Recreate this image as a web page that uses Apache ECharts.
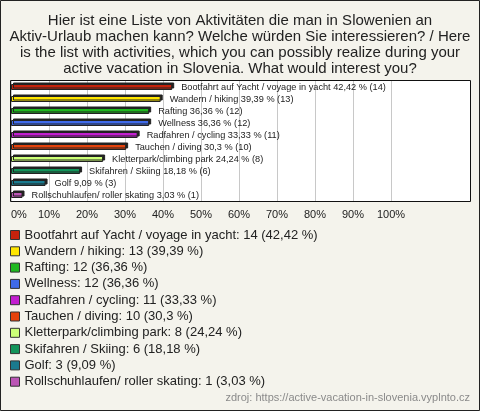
<!DOCTYPE html>
<html><head><meta charset="utf-8">
<script src="https://cdn.jsdelivr.net/npm/echarts@6/dist/echarts.min.js"></script>
<style>html,body{margin:0;padding:0;background:#f4f3ec}#c{width:480px;height:411px}</style>
</head><body><div id="c"></div>
<script>
const categories = [
  "Bootfahrt auf Yacht / voyage in yacht",
  "Wandern / hiking",
  "Rafting",
  "Wellness",
  "Radfahren / cycling",
  "Tauchen / diving",
  "Kletterpark/climbing park",
  "Skifahren / Skiing",
  "Golf",
  "Rollschuhlaufen/ roller skating"
];
const counts = [14, 13, 12, 12, 11, 10, 8, 6, 3, 1];
const percents = [42.42, 39.39, 36.36, 36.36, 33.33, 30.3, 24.24, 18.18, 9.09, 3.03];
const colors = ["#c4220c", "#ffe600", "#1fb81f", "#3f6ae8", "#c21ed0", "#e4420c", "#ccff77", "#12945a", "#1a7a8e", "#bb55b5"];
const tickLabels = ["0%","10%","20%","30%","40%","50%","60%","70%","80%","90%","100%"];
const titleText = "Hier ist eine Liste von Aktivitäten die man in Slowenien an\nAktiv-Urlaub machen kann? Welche würden Sie interessieren? / Here\nis the list with activities, which you can possibly realize during your\nactive vacation in Slovenia. What would interest you?";
const sourceText = "zdroj: https://active-vacation-in-slovenia.vyplnto.cz";

const FONT = "'Liberation Sans', Arial, sans-serif";
const fmt = v => String(v).replace('.', ',');

const series = categories.map((name, i) => ({
  name: name,
  type: 'bar',
  stack: 'all',
  barWidth: 6,
  data: categories.map((c, j) => j === i ? percents[i] : '-'),
  itemStyle: {
    color: colors[i],
    borderColor: '#222',
    borderWidth: 1,
    shadowColor: '#222',
    shadowBlur: 0,
    shadowOffsetX: 2,
    shadowOffsetY: -1.5
  },
  label: {
    show: true,
    position: 'right',
    distance: 9,
    fontFamily: FONT,
    fontSize: 9.2,
    color: '#222',
    formatter: () => name + ' ' + fmt(percents[i]) + ' % (' + counts[i] + ')'
  },
  emphasis: { disabled: true },
  animation: false
}));

const chart = echarts.init(document.getElementById('c'), null, { renderer: 'canvas' });
chart.setOption({
  backgroundColor: '#f4f3ec',
  animation: false,
  title: {
    text: titleText,
    left: 'center',
    top: 8,
    textStyle: { fontFamily: FONT, fontSize: 15, fontWeight: 'normal', color: '#222', lineHeight: 16 }
  },
  grid: { left: 11, right: 89, top: 81, bottom: 210, containLabel: false },
  xAxis: {
    type: 'value',
    min: 0, max: 100, interval: 10,
    axisLine: { show: false },
    axisTick: { show: false },
    splitLine: { show: true, lineStyle: { color: '#c8c8c8', width: 1 } },
    axisLabel: {
      margin: 8,
      fontFamily: FONT, fontSize: 11, color: '#222',
      alignMinLabel: 'left',
      formatter: (v) => tickLabels[Math.round(v / 10)]
    }
  },
  yAxis: {
    type: 'category',
    data: categories,
    inverse: true,
    show: false
  },
  legend: {
    orient: 'vertical',
    left: 10,
    top: 227,
    padding: 0,
    itemWidth: 9,
    itemHeight: 9,
    itemGap: 0.3,
    icon: 'rect',
    selectedMode: false,
    itemStyle: { borderColor: '#333', borderWidth: 1, shadowBlur: 0, shadowOffsetX: 0, shadowOffsetY: 0, shadowColor: 'transparent' },
    textStyle: { fontFamily: FONT, fontSize: 13, color: '#222', lineHeight: 16 },
    formatter: (name) => {
      const i = categories.indexOf(name);
      return name + ': ' + counts[i] + ' (' + fmt(percents[i]) + ' %)';
    },
    data: categories
  },
  graphic: [
    { type: 'rect', z: -10, silent: true, shape: { x: 0.5, y: 0.5, width: 479, height: 410 }, style: { fill: 'none', stroke: '#222', lineWidth: 1 } },
    { type: 'rect', z: -10, silent: true, shape: { x: 10.5, y: 80.5, width: 460, height: 121 }, style: { fill: '#ffffff', stroke: '#111', lineWidth: 1 } },
    { type: 'text', right: 10, top: 392, silent: true, style: { text: sourceText, fontFamily: FONT, fontSize: 11, fill: '#8a8a8a' } }
  ],
  series: series
});
</script>
</body></html>
